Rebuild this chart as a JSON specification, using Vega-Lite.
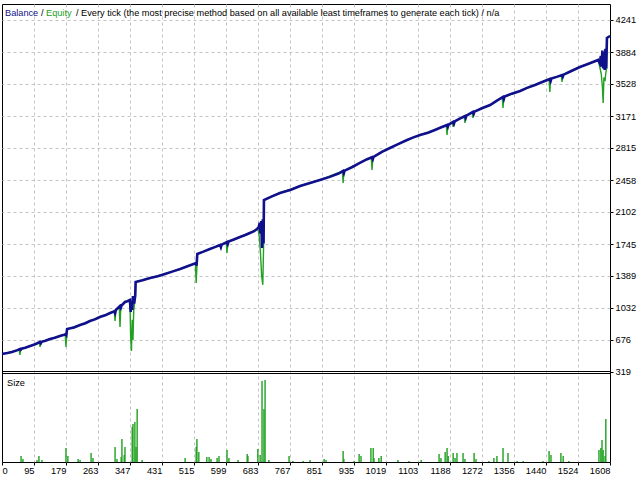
{
  "$schema": "https://vega.github.io/schema/vega-lite/v6.json",
  "background": "white",
  "autosize": {"type": "none"},
  "padding": {"left": 2, "top": 4, "right": 30, "bottom": 18},
  "width": 608,
  "height": 458,
  "config": {
    "view": {"stroke": "black", "strokeWidth": 1},
    "axis": {
      "labelFont": "Liberation Sans",
      "labelFontSize": 9.3,
      "labelColor": "black",
      "labelOverlap": false,
      "gridColor": "#c4c4c4",
      "gridDash": [3, 3],
      "gridWidth": 1,
      "tickColor": "black",
      "domain": false,
      "title": null
    },
    "text": {"font": "Liberation Sans", "fontSize": 9.2}
  },
  "datasets": {
    "balance": [
      {"t": 11, "v": 520}, {"t": 25, "v": 530}, {"t": 37, "v": 542}, {"t": 50, "v": 560},
      {"t": 58, "v": 575}, {"t": 60, "v": 566}, {"t": 62, "v": 578}, {"t": 72, "v": 590},
      {"t": 85, "v": 609}, {"t": 98, "v": 628}, {"t": 111, "v": 653}, {"t": 113, "v": 640},
      {"t": 115, "v": 655}, {"t": 125, "v": 668}, {"t": 137, "v": 687}, {"t": 150, "v": 700},
      {"t": 163, "v": 720}, {"t": 172, "v": 730}, {"t": 179, "v": 742}, {"t": 180, "v": 735},
      {"t": 182, "v": 798}, {"t": 200, "v": 815}, {"t": 216, "v": 843}, {"t": 230, "v": 862},
      {"t": 242, "v": 887}, {"t": 255, "v": 905}, {"t": 268, "v": 932}, {"t": 282, "v": 950},
      {"t": 295, "v": 976}, {"t": 306, "v": 995}, {"t": 308, "v": 975}, {"t": 310, "v": 1010},
      {"t": 321, "v": 1054}, {"t": 323, "v": 1035}, {"t": 325, "v": 1060}, {"t": 334, "v": 1099},
      {"t": 340, "v": 1108}, {"t": 347, "v": 1121}, {"t": 349, "v": 988}, {"t": 351, "v": 1100},
      {"t": 353, "v": 1010}, {"t": 355, "v": 1166}, {"t": 358, "v": 1080}, {"t": 361, "v": 1170},
      {"t": 362, "v": 1322}, {"t": 380, "v": 1340}, {"t": 400, "v": 1366}, {"t": 420, "v": 1385},
      {"t": 439, "v": 1411}, {"t": 460, "v": 1440}, {"t": 479, "v": 1467}, {"t": 500, "v": 1500},
      {"t": 521, "v": 1533}, {"t": 522, "v": 1505}, {"t": 524, "v": 1634}, {"t": 540, "v": 1660},
      {"t": 557, "v": 1690}, {"t": 570, "v": 1710}, {"t": 584, "v": 1734}, {"t": 586, "v": 1710},
      {"t": 588, "v": 1738}, {"t": 602, "v": 1767}, {"t": 604, "v": 1745}, {"t": 606, "v": 1772},
      {"t": 620, "v": 1795}, {"t": 636, "v": 1823}, {"t": 650, "v": 1845}, {"t": 662, "v": 1868},
      {"t": 672, "v": 1885}, {"t": 681, "v": 1912}, {"t": 685, "v": 1930}, {"t": 688, "v": 1980},
      {"t": 690, "v": 1860}, {"t": 692, "v": 2000}, {"t": 694, "v": 1700}, {"t": 696, "v": 2020},
      {"t": 698, "v": 1750}, {"t": 699, "v": 2235}, {"t": 720, "v": 2275}, {"t": 741, "v": 2313},
      {"t": 770, "v": 2350}, {"t": 794, "v": 2391}, {"t": 820, "v": 2425}, {"t": 846, "v": 2458},
      {"t": 870, "v": 2490}, {"t": 895, "v": 2530}, {"t": 907, "v": 2559}, {"t": 909, "v": 2535},
      {"t": 911, "v": 2562}, {"t": 930, "v": 2600}, {"t": 951, "v": 2648}, {"t": 970, "v": 2690},
      {"t": 983, "v": 2712}, {"t": 985, "v": 2690}, {"t": 987, "v": 2716}, {"t": 1010, "v": 2775},
      {"t": 1030, "v": 2815}, {"t": 1050, "v": 2855}, {"t": 1075, "v": 2904}, {"t": 1090, "v": 2930},
      {"t": 1109, "v": 2960}, {"t": 1130, "v": 2985}, {"t": 1148, "v": 3015}, {"t": 1165, "v": 3045},
      {"t": 1180, "v": 3071}, {"t": 1182, "v": 3050}, {"t": 1184, "v": 3075}, {"t": 1196, "v": 3105},
      {"t": 1198, "v": 3085}, {"t": 1200, "v": 3110}, {"t": 1212, "v": 3140}, {"t": 1227, "v": 3171},
      {"t": 1229, "v": 3150}, {"t": 1231, "v": 3175}, {"t": 1248, "v": 3216}, {"t": 1250, "v": 3195},
      {"t": 1252, "v": 3220}, {"t": 1270, "v": 3255}, {"t": 1293, "v": 3294}, {"t": 1310, "v": 3340},
      {"t": 1327, "v": 3383}, {"t": 1329, "v": 3360}, {"t": 1331, "v": 3388}, {"t": 1350, "v": 3420},
      {"t": 1372, "v": 3450}, {"t": 1390, "v": 3485}, {"t": 1411, "v": 3517}, {"t": 1430, "v": 3550},
      {"t": 1450, "v": 3584}, {"t": 1452, "v": 3560}, {"t": 1454, "v": 3588}, {"t": 1470, "v": 3610},
      {"t": 1482, "v": 3628}, {"t": 1484, "v": 3610}, {"t": 1486, "v": 3632}, {"t": 1505, "v": 3670},
      {"t": 1529, "v": 3717}, {"t": 1550, "v": 3750}, {"t": 1577, "v": 3795}, {"t": 1581, "v": 3760},
      {"t": 1584, "v": 3840}, {"t": 1586, "v": 3720}, {"t": 1588, "v": 3900}, {"t": 1590, "v": 3700},
      {"t": 1592, "v": 3880}, {"t": 1594, "v": 3684}, {"t": 1596, "v": 3920}, {"t": 1598, "v": 3700},
      {"t": 1600, "v": 4040}, {"t": 1608, "v": 4063}
    ],
    "equity": [
      {"t": 11, "v": 520}, {"t": 37, "v": 542}, {"t": 56, "v": 572}, {"t": 58, "v": 508},
      {"t": 60, "v": 570}, {"t": 72, "v": 590}, {"t": 85, "v": 609}, {"t": 98, "v": 628},
      {"t": 109, "v": 650}, {"t": 111, "v": 598}, {"t": 113, "v": 652}, {"t": 137, "v": 687},
      {"t": 163, "v": 720}, {"t": 177, "v": 740}, {"t": 179, "v": 598}, {"t": 181, "v": 742},
      {"t": 182, "v": 798}, {"t": 216, "v": 843}, {"t": 242, "v": 887}, {"t": 268, "v": 932},
      {"t": 295, "v": 976}, {"t": 306, "v": 1000}, {"t": 308, "v": 887}, {"t": 310, "v": 1010},
      {"t": 319, "v": 1050}, {"t": 321, "v": 820}, {"t": 323, "v": 1054}, {"t": 334, "v": 1099},
      {"t": 347, "v": 1121}, {"t": 349, "v": 700}, {"t": 351, "v": 553}, {"t": 353, "v": 900},
      {"t": 355, "v": 676}, {"t": 357, "v": 1000}, {"t": 361, "v": 1160}, {"t": 362, "v": 1322},
      {"t": 400, "v": 1366}, {"t": 439, "v": 1411}, {"t": 479, "v": 1467}, {"t": 519, "v": 1530},
      {"t": 521, "v": 1311}, {"t": 523, "v": 1500}, {"t": 524, "v": 1634}, {"t": 557, "v": 1690},
      {"t": 584, "v": 1734}, {"t": 586, "v": 1690}, {"t": 588, "v": 1738}, {"t": 600, "v": 1765},
      {"t": 602, "v": 1645}, {"t": 604, "v": 1767}, {"t": 636, "v": 1823}, {"t": 662, "v": 1868},
      {"t": 681, "v": 1912}, {"t": 684, "v": 1900}, {"t": 687, "v": 1820}, {"t": 690, "v": 1634},
      {"t": 693, "v": 1390}, {"t": 696, "v": 1290}, {"t": 698, "v": 1700}, {"t": 699, "v": 2235},
      {"t": 741, "v": 2313}, {"t": 794, "v": 2391}, {"t": 846, "v": 2458}, {"t": 905, "v": 2555},
      {"t": 907, "v": 2425}, {"t": 909, "v": 2559}, {"t": 951, "v": 2648}, {"t": 981, "v": 2710},
      {"t": 983, "v": 2570}, {"t": 985, "v": 2712}, {"t": 1030, "v": 2815}, {"t": 1075, "v": 2904},
      {"t": 1109, "v": 2960}, {"t": 1148, "v": 3015}, {"t": 1178, "v": 3068}, {"t": 1180, "v": 2960},
      {"t": 1182, "v": 3071}, {"t": 1194, "v": 3100}, {"t": 1196, "v": 3049}, {"t": 1198, "v": 3105},
      {"t": 1225, "v": 3168}, {"t": 1227, "v": 3093}, {"t": 1229, "v": 3171}, {"t": 1246, "v": 3212},
      {"t": 1248, "v": 3149}, {"t": 1250, "v": 3216}, {"t": 1293, "v": 3294}, {"t": 1325, "v": 3380},
      {"t": 1327, "v": 3260}, {"t": 1329, "v": 3383}, {"t": 1372, "v": 3450}, {"t": 1411, "v": 3517},
      {"t": 1448, "v": 3580}, {"t": 1450, "v": 3439}, {"t": 1452, "v": 3584}, {"t": 1480, "v": 3625},
      {"t": 1482, "v": 3550}, {"t": 1484, "v": 3628}, {"t": 1529, "v": 3717}, {"t": 1577, "v": 3795},
      {"t": 1579, "v": 3760}, {"t": 1582, "v": 3700}, {"t": 1585, "v": 3640}, {"t": 1588, "v": 3500},
      {"t": 1590, "v": 3316}, {"t": 1592, "v": 3600}, {"t": 1595, "v": 3560}, {"t": 1597, "v": 3650},
      {"t": 1599, "v": 3700}, {"t": 1600, "v": 4040}, {"t": 1608, "v": 4063}
    ],
    "size": [
      {"t": 61, "s": 6}, {"t": 66, "s": 3}, {"t": 103, "s": 2}, {"t": 108, "s": 6}, {"t": 116, "s": 2},
      {"t": 179, "s": 14}, {"t": 184, "s": 6}, {"t": 211, "s": 3}, {"t": 216, "s": 2}, {"t": 245, "s": 9},
      {"t": 250, "s": 4}, {"t": 308, "s": 15}, {"t": 313, "s": 3}, {"t": 324, "s": 5}, {"t": 326, "s": 23},
      {"t": 332, "s": 7}, {"t": 334, "s": 15}, {"t": 353, "s": 35}, {"t": 355, "s": 38}, {"t": 360, "s": 40},
      {"t": 363, "s": 15}, {"t": 366, "s": 53}, {"t": 379, "s": 2}, {"t": 492, "s": 4}, {"t": 521, "s": 15},
      {"t": 523, "s": 23}, {"t": 528, "s": 10}, {"t": 549, "s": 5}, {"t": 555, "s": 5}, {"t": 560, "s": 3},
      {"t": 576, "s": 4}, {"t": 581, "s": 6}, {"t": 602, "s": 12}, {"t": 607, "s": 4}, {"t": 631, "s": 2},
      {"t": 655, "s": 8}, {"t": 657, "s": 6}, {"t": 683, "s": 13}, {"t": 689, "s": 7}, {"t": 694, "s": 81},
      {"t": 699, "s": 53}, {"t": 702, "s": 82}, {"t": 712, "s": 2}, {"t": 765, "s": 6}, {"t": 775, "s": 1},
      {"t": 802, "s": 1}, {"t": 820, "s": 2}, {"t": 857, "s": 3}, {"t": 862, "s": 2}, {"t": 907, "s": 11},
      {"t": 909, "s": 3}, {"t": 936, "s": 1}, {"t": 949, "s": 8}, {"t": 954, "s": 6}, {"t": 980, "s": 14},
      {"t": 986, "s": 14}, {"t": 988, "s": 4}, {"t": 1001, "s": 4}, {"t": 1007, "s": 6}, {"t": 1051, "s": 2},
      {"t": 1080, "s": 1}, {"t": 1112, "s": 2}, {"t": 1159, "s": 8}, {"t": 1164, "s": 4}, {"t": 1175, "s": 10},
      {"t": 1180, "s": 14}, {"t": 1183, "s": 6}, {"t": 1196, "s": 9}, {"t": 1201, "s": 4}, {"t": 1206, "s": 9},
      {"t": 1222, "s": 9}, {"t": 1227, "s": 3}, {"t": 1251, "s": 9}, {"t": 1256, "s": 3}, {"t": 1290, "s": 1},
      {"t": 1303, "s": 4}, {"t": 1311, "s": 6}, {"t": 1327, "s": 14}, {"t": 1340, "s": 9}, {"t": 1364, "s": 1},
      {"t": 1380, "s": 1}, {"t": 1432, "s": 1}, {"t": 1448, "s": 11}, {"t": 1453, "s": 7}, {"t": 1479, "s": 9},
      {"t": 1485, "s": 6}, {"t": 1500, "s": 1}, {"t": 1579, "s": 12}, {"t": 1584, "s": 14}, {"t": 1587, "s": 22},
      {"t": 1590, "s": 12}, {"t": 1595, "s": 6}, {"t": 1597, "s": 43}
    ]
  },
  "resolve": {"scale": {"y": "independent"}, "axis": {"y": "independent"}},
  "layer": [
    {
      "layer": [
        {
          "data": {"name": "equity"},
          "mark": {"type": "line", "color": "#22a022", "strokeWidth": 1.4},
          "encoding": {
            "x": {
              "field": "t",
              "type": "quantitative",
              "scale": {"domain": [11, 1608], "nice": false, "zero": false},
              "axis": {
                "values": [11, 95, 179, 263, 347, 431, 515, 599, 683, 767, 851, 935, 1019, 1103, 1188, 1272, 1356, 1440, 1524, 1608],
                "tickCount": 40,
                "labelExpr": "datum.value == 11 ? '0' : datum.label",
                "format": "d",
                "labelAlign": {"condition": {"test": "datum.value == 11", "value": "left"}, "value": "right"},
                "labelOverlap": false,
                "labelBound": false,
                "labelFlush": false,
                "grid": true,
                "gridOpacity": {"condition": {"test": "datum.value == 11 || datum.value == 1608", "value": 0}, "value": 1},
                "tickSize": 3,
                "labelPadding": 1
              }
            },
            "y": {
              "field": "v",
              "type": "quantitative",
              "scale": {"domain": [-683.8, 4419], "nice": false, "zero": false},
              "axis": {
                "orient": "right",
                "values": [319, 676, 1032, 1389, 1745, 2102, 2458, 2815, 3171, 3528, 3884, 4241],
                "tickCount": 40,
                "format": "d",
                "labelOverlap": false,
                "labelBound": false,
                "labelFlush": false,
                "grid": true,
                "gridOpacity": {"condition": {"test": "datum.value == 319", "value": 0}, "value": 1},
                "tickSize": 3,
                "labelPadding": 2
              }
            }
          }
        },
        {
          "data": {"name": "balance"},
          "mark": {"type": "line", "color": "#10108c", "strokeWidth": 2.6},
          "encoding": {
            "x": {"field": "t", "type": "quantitative"},
            "y": {"field": "v", "type": "quantitative"}
          }
        },
        {
          "data": {"values": [{}]},
          "mark": {"type": "text", "align": "left", "baseline": "middle", "color": "#10108c", "dx": 3},
          "encoding": {
            "x": {"datum": 11, "type": "quantitative"},
            "y": {"datum": 4319, "type": "quantitative"},
            "text": {"value": "Balance"}
          }
        },
        {
          "data": {"values": [{}]},
          "mark": {"type": "text", "align": "left", "baseline": "middle", "color": "black", "dx": 39},
          "encoding": {
            "x": {"datum": 11, "type": "quantitative"},
            "y": {"datum": 4319, "type": "quantitative"},
            "text": {"value": "/"}
          }
        },
        {
          "data": {"values": [{}]},
          "mark": {"type": "text", "align": "left", "baseline": "middle", "color": "#22a022", "dx": 44},
          "encoding": {
            "x": {"datum": 11, "type": "quantitative"},
            "y": {"datum": 4319, "type": "quantitative"},
            "text": {"value": "Equity"}
          }
        },
        {
          "data": {"values": [{}]},
          "mark": {"type": "text", "align": "left", "baseline": "middle", "color": "black", "dx": 74},
          "encoding": {
            "x": {"datum": 11, "type": "quantitative"},
            "y": {"datum": 4319, "type": "quantitative"},
            "text": {"value": "/ Every tick (the most precise method based on all available least timeframes to generate each tick) / n/a"}
          }
        }
      ]
    },
    {
      "layer": [
        {
          "data": {"name": "size"},
          "mark": {"type": "rule", "color": "#1ea01e", "strokeWidth": 1.4},
          "encoding": {
            "x": {
              "field": "t",
              "type": "quantitative",
              "axis": {
                "values": [11, 95, 179, 263, 347, 431, 515, 599, 683, 767, 851, 935, 1019, 1103, 1188, 1272, 1356, 1440, 1524, 1608],
                "tickCount": 40,
                "labelExpr": "datum.value == 11 ? '0' : datum.label",
                "format": "d",
                "labelAlign": {"condition": {"test": "datum.value == 11", "value": "left"}, "value": "right"},
                "labelOverlap": false,
                "labelBound": false,
                "labelFlush": false,
                "grid": true,
                "gridOpacity": {"condition": {"test": "datum.value == 11 || datum.value == 1608", "value": 0}, "value": 1},
                "tickSize": 3,
                "labelPadding": 1
              }
            },
            "y": {
              "field": "s",
              "type": "quantitative",
              "scale": {"domain": [0, 458], "nice": false, "zero": false},
              "axis": null
            },
            "y2": {"datum": 0}
          }
        },
        {
          "data": {"values": [{"edge": 88.5}, {"edge": 90.5}]},
          "mark": {"type": "rule", "color": "black", "strokeWidth": 1},
          "encoding": {
            "y": {"field": "edge", "type": "quantitative"}
          }
        },
        {
          "data": {"values": [{}]},
          "mark": {"type": "text", "align": "left", "baseline": "middle", "color": "black", "dx": 5},
          "encoding": {
            "x": {"datum": 11, "type": "quantitative"},
            "y": {"datum": 79, "type": "quantitative"},
            "text": {"value": "Size"}
          }
        }
      ]
    }
  ]
}
